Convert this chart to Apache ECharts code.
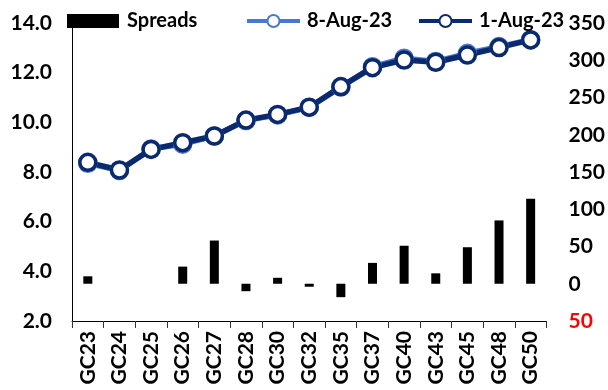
<!DOCTYPE html>
<html>
<head>
<meta charset="utf-8">
<script src="https://cdn.jsdelivr.net/npm/echarts@6/dist/echarts.min.js"></script>
<style>
html,body{margin:0;padding:0;background:#fff;}
#chart{width:608px;height:390px;}
</style>
</head>
<body>
<div id="chart"></div>
<script>
const categories = ['GC23','GC24','GC25','GC26','GC27','GC28','GC30','GC32','GC35','GC37','GC40','GC43','GC45','GC48','GC50'];
const spreads = [10, 0, 0, 23, 58, -10, 8, -4, -18, 28, 51, 14, 49, 85, 114];
const aug8 = [8.35, 8.06, 8.93, 9.12, 9.45, 10.07, 10.30, 10.60, 11.42, 12.24, 12.58, 12.45, 12.78, 13.05, 13.33];
const aug1 = [8.39, 8.08, 8.91, 9.18, 9.45, 10.09, 10.32, 10.61, 11.44, 12.20, 12.51, 12.42, 12.71, 13.01, 13.32];
const leftTicks = {min: 2, max: 14, interval: 2};
const rightTicks = {min: -50, max: 350, interval: 50};

const FONT = 'Lato';
const chart = echarts.init(document.getElementById('chart'));
const legendText = {fontFamily: FONT, fontWeight: 'bold', fontSize: 20, color: '#000'};
chart.setOption({
  animation: false,
  backgroundColor: '#fff',
  textStyle: {fontFamily: FONT},
  legend: [
    {data: [{name: 'Spreads', icon: 'rect'}], left: 62, top: 6, itemWidth: 52, itemHeight: 14, textStyle: Object.assign({padding: [0,0,0,3]}, legendText)},
    {data: ['8-Aug-23'], left: 240, top: 6, itemWidth: 53, itemHeight: 15, lineStyle: {width: 4}, textStyle: Object.assign({padding: [0,0,0,2]}, legendText)},
    {data: ['1-Aug-23'], left: 412, top: 6, itemWidth: 53, itemHeight: 15, lineStyle: {width: 4}, textStyle: Object.assign({padding: [0,0,0,2]}, legendText)}
  ],
  grid: {left: 72, right: 61, top: 23, bottom: 69, containLabel: false},
  xAxis: {
    type: 'category',
    data: categories,
    boundaryGap: true,
    axisLine: {show: true, onZero: false, lineStyle: {color: '#000', width: 1}},
    axisTick: {show: true, length: 7, lineStyle: {color: '#333'}},
    axisLabel: {rotate: 90, margin: 10, fontFamily: FONT, fontWeight: 'bold', fontSize: 21, color: '#000'},
    splitLine: {show: false}
  },
  yAxis: [
    {
      type: 'value', position: 'left',
      min: leftTicks.min, max: leftTicks.max, interval: leftTicks.interval,
      axisLine: {show: true, lineStyle: {color: '#000', width: 1}},
      axisTick: {show: false},
      splitLine: {show: false},
      axisLabel: {margin: 20, fontFamily: FONT, fontWeight: 'bold', fontSize: 21, color: '#000',
        formatter: v => v.toFixed(1)}
    },
    {
      type: 'value', position: 'right',
      min: rightTicks.min, max: rightTicks.max, interval: rightTicks.interval,
      axisLine: {show: false},
      axisTick: {show: false},
      splitLine: {show: false},
      axisLabel: {margin: 22, fontFamily: FONT, fontWeight: 'bold', fontSize: 21,
        color: v => (Number(v) < 0 ? '#ff0000' : '#000'),
        formatter: v => String(Math.abs(v))}
    }
  ],
  series: [
    {
      name: 'Spreads', type: 'bar', yAxisIndex: 1, data: spreads,
      barWidth: 9, itemStyle: {color: '#000'}
    },
    {
      name: '8-Aug-23', type: 'line', yAxisIndex: 0, data: aug8,
      symbol: 'circle', symbolSize: 16,
      lineStyle: {color: '#4A78D0', width: 5.5},
      itemStyle: {color: '#fff', borderColor: '#4A78D0', borderWidth: 3.5}
    },
    {
      name: '1-Aug-23', type: 'line', yAxisIndex: 0, data: aug1,
      symbol: 'circle', symbolSize: 16,
      lineStyle: {color: '#0B2A6E', width: 5.5},
      itemStyle: {color: '#fff', borderColor: '#0B2A6E', borderWidth: 3.5}
    }
  ]
});
</script>
</body>
</html>
